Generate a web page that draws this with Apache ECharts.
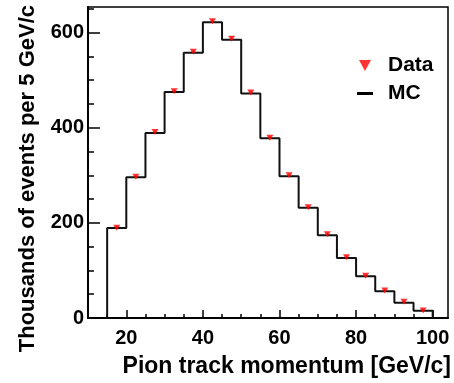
<!DOCTYPE html>
<html>
<head>
<meta charset="utf-8">
<script src="https://cdn.jsdelivr.net/npm/echarts@6/dist/echarts.min.js"></script>
<style>
html, body { margin: 0; padding: 0; background: #fff; }
#main { width: 454px; height: 383px; }
</style>
</head>
<body>
<div id="main"></div>
<script>
// bin edges in GeV/c, 5 GeV wide
var binEdges = [15, 20, 25, 30, 35, 40, 45, 50, 55, 60, 65, 70, 75, 80, 85, 90, 95, 100];
// thousands of events per bin
var mcCounts   = [189, 296, 389, 475, 558, 622, 585, 472, 378, 298, 232, 174, 126, 88, 56, 32, 15];
var dataCounts = [190, 297, 391, 477, 560, 624, 587, 474, 379, 300, 233, 176, 128, 89, 58, 34, 16];
var dataErrors = [3, 3, 3, 3, 3, 3, 3, 3, 3, 3, 3, 3, 3, 3, 3, 3, 3];

var xMajor = [20, 40, 60, 80, 100];
var xMinor = [15, 25, 30, 35, 45, 50, 55, 65, 70, 75, 85, 90, 95];
var yMajor = [0, 200, 400, 600];
var yMinor = [50, 100, 150, 250, 300, 350, 450, 500, 550, 650];

var FONT = '"Liberation Sans", Arial, Helvetica, sans-serif';

// histogram outline for MC
var mcLine = [[binEdges[0], 0]];
for (var i = 0; i < mcCounts.length; i++) {
    mcLine.push([binEdges[i], mcCounts[i]]);
}
mcLine.push([binEdges[binEdges.length - 1], 0]);

// data points at bin centres
var dataPts = [];
var errPts = [];
for (var j = 0; j < dataCounts.length; j++) {
    var c = (binEdges[j] + binEdges[j + 1]) / 2;
    dataPts.push([c, dataCounts[j]]);
    errPts.push([c, dataCounts[j], dataErrors[j]]);
}

var chart = echarts.init(document.getElementById('main'));

var option = {
    animation: false,
    backgroundColor: '#fff',
    textStyle: { fontFamily: FONT },
    grid: {
        left: 88, right: 5, top: 7, bottom: 65,
        show: true, borderColor: '#000', borderWidth: 1.5,
        containLabel: false
    },
    legend: {
        orient: 'vertical',
        left: 357, top: 55,
        itemWidth: 16, itemHeight: 11, itemGap: 7,
        padding: 0,
        textStyle: { fontFamily: FONT, fontWeight: 'bold', fontSize: 21, color: '#000', padding: [0, 0, 0, 10] },
        data: [
            { name: 'Data', icon: 'path://M0,0L12,0L6,11Z' },
            { name: 'MC', icon: 'path://M0,0L16,0L16,3L0,3Z' }
        ]
    },
    xAxis: [{
        type: 'value', position: 'bottom',
        min: 10, max: 104,
        name: 'Pion track momentum [GeV/c]',
        nameLocation: 'end', nameGap: 3,
        nameTextStyle: { fontFamily: FONT, fontWeight: 'bold', fontSize: 23, color: '#000',
            align: 'right', verticalAlign: 'top', padding: [37, 0, 0, 0] },
        axisLine: { lineStyle: { color: '#000', width: 2 } },
        axisTick: { inside: true, length: 8, customValues: xMajor, lineStyle: { color: '#000', width: 1.5 } },
        axisLabel: { customValues: xMajor, margin: 10, fontFamily: FONT, fontWeight: 'bold', fontSize: 20, color: '#000' },
        splitLine: { show: false }
    }, {
        type: 'value', position: 'bottom',
        min: 10, max: 104,
        axisLine: { show: false },
        axisTick: { inside: true, length: 4, customValues: xMinor, lineStyle: { color: '#000', width: 1.5 } },
        axisLabel: { show: false },
        splitLine: { show: false }
    }],
    yAxis: [{
        type: 'value', position: 'left',
        min: 0, max: 654,
        name: 'Thousands of events per 5 GeV/c',
        nameLocation: 'end', nameGap: 2, nameRotate: 90,
        nameTextStyle: { fontFamily: FONT, fontWeight: 'bold', fontSize: 22, color: '#000',
            align: 'right', verticalAlign: 'bottom', padding: [0, 0, 49, 0] },
        axisLine: { lineStyle: { color: '#000', width: 2 } },
        axisTick: { inside: true, length: 12, customValues: yMajor, lineStyle: { color: '#000', width: 1.5 } },
        axisLabel: { customValues: yMajor, margin: 4, fontFamily: FONT, fontWeight: 'bold', fontSize: 20, color: '#000' },
        splitLine: { show: false }
    }, {
        type: 'value', position: 'left',
        min: 0, max: 654,
        axisLine: { show: false },
        axisTick: { inside: true, length: 6, customValues: yMinor, lineStyle: { color: '#000', width: 1.5 } },
        axisLabel: { show: false },
        splitLine: { show: false }
    }],
    series: [{
        name: 'MC',
        type: 'line',
        step: 'end',
        data: mcLine,
        symbol: 'none',
        color: '#000',
        lineStyle: { color: '#111', width: 2 },
        z: 2
    }, {
        name: 'err',
        type: 'custom',
        data: errPts,
        renderItem: function (params, api) {
            var x = api.value(0), y = api.value(1), e = api.value(2);
            var p1 = api.coord([x, y - e]);
            var p2 = api.coord([x, y + e]);
            return {
                type: 'line',
                shape: { x1: p1[0], y1: p1[1], x2: p2[0], y2: p2[1] },
                style: { stroke: '#ff0000', lineWidth: 1 }
            };
        },
        z: 3
    }, {
        name: 'Data',
        type: 'scatter',
        data: dataPts,
        symbol: 'triangle',
        symbolRotate: 180,
        symbolSize: [7, 6],
        color: '#ff0000',
        itemStyle: { color: '#ff0000' },
        z: 4
    }]
};

chart.setOption(option);
</script>
</body>
</html>
